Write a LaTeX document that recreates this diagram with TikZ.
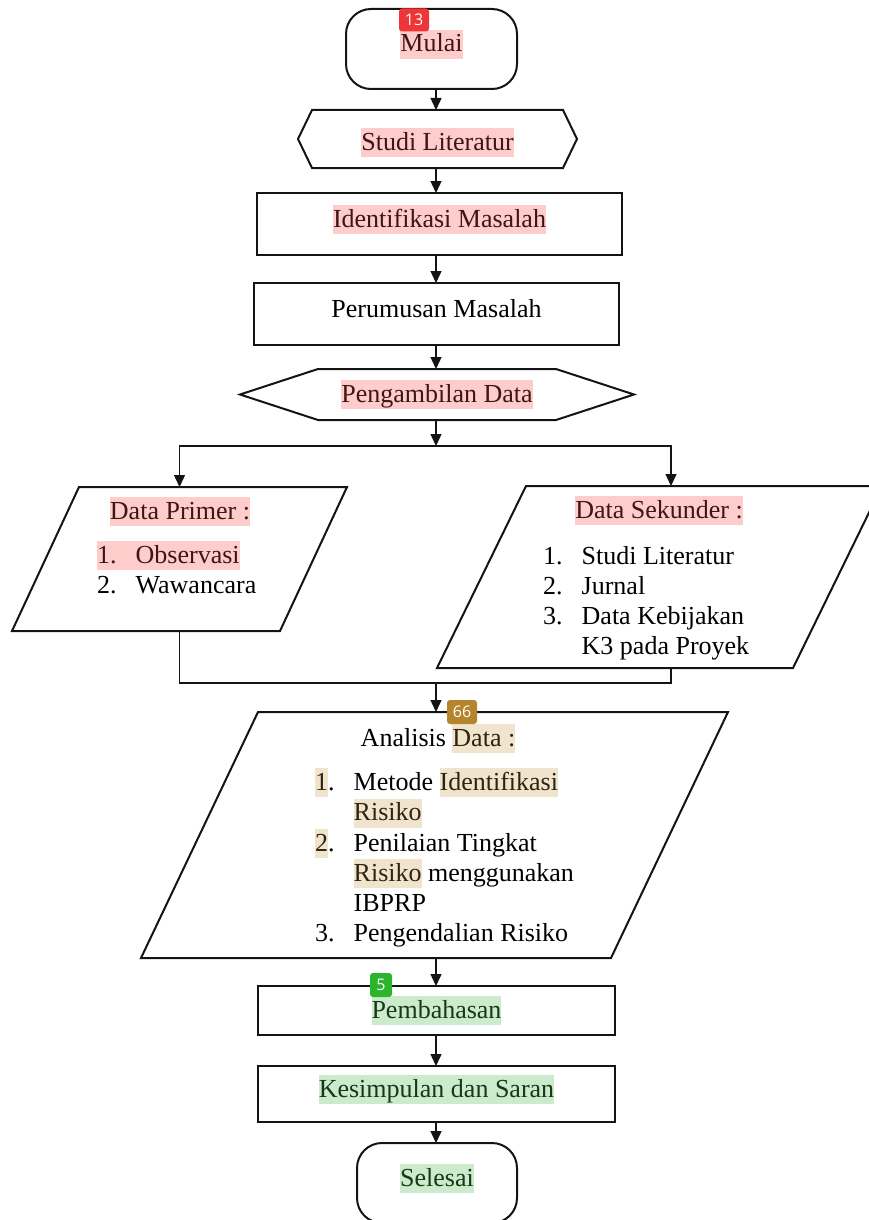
\documentclass[tikz,border=0pt]{standalone}
\usepackage{fontspec}
\setmainfont{Liberation Serif}
\newfontfamily\badgefont{Open Sans}
\usepackage{xcolor}
\usepackage{tikz}
\usetikzlibrary{arrows.meta}
\definecolor{flowInk}{HTML}{141414}
\definecolor{hlRed}{HTML}{FFCCCC}
\definecolor{hlTan}{HTML}{F0E4CC}
\definecolor{hlGreen}{HTML}{CCEBCC}
\definecolor{inkRed}{HTML}{3D1616}
\definecolor{inkTan}{HTML}{2E2412}
\definecolor{inkGreen}{HTML}{183818}
\definecolor{tagRed}{HTML}{EE3537}
\definecolor{tagGold}{HTML}{B5852E}
\definecolor{tagGreen}{HTML}{2DB42D}
\setlength{\fboxsep}{0pt}
\newcommand{\hlred}[1]{\colorbox{hlRed}{\rule[-7pt]{0pt}{29pt}\textcolor{inkRed}{#1}}}
\newcommand{\hltan}[1]{\colorbox{hlTan}{\rule[-7pt]{0pt}{29pt}\textcolor{inkTan}{#1}}}
\newcommand{\hlgreen}[1]{\colorbox{hlGreen}{\rule[-7pt]{0pt}{29pt}\textcolor{inkGreen}{#1}}}
\newcommand{\itemno}[1]{\makebox[38.5pt][l]{#1}}

\begin{document}
\begin{tikzpicture}[
  x=1pt, y=-1pt,
  font=\fontsize{26}{30}\selectfont,
  frame/.style={draw=flowInk, line width=2pt, inner sep=0pt, outer sep=0pt},
  terminal/.style={frame, rounded corners=25pt},
  shell/.style={inner sep=0pt, outer sep=0pt},
  outline/.style={draw=flowInk, line width=2pt},
  raised/.style={text height=22pt, text depth=16pt},
  line/.style={draw=flowInk, line width=1.4pt},
  arr/.style={line, -{Triangle[length=12pt, width=11pt]}},
  head/.style={anchor=base, inner sep=0pt},
  entry/.style={anchor=base west, inner sep=0pt},
  tag/.style={font=\badgefont\fontsize{16}{16}\selectfont, text=white, rounded corners=3pt, inner sep=0pt, minimum height=23pt}
]
  \useasboundingbox (0,0) rectangle (869,1220);
  \clip (0,0) rectangle (869,1220);

  \node[terminal, raised, minimum width=171, minimum height=80] (mulai) at (431.5,49) {\hlred{Mulai}};
  \node[shell, minimum width=279, minimum height=58, text height=29pt, text depth=7pt] (studi) at (437.5,139) {\hlred{Studi Literatur}};
  \node[frame, raised, minimum width=365, minimum height=62] (ident) at (439.5,224) {\hlred{Identifikasi Masalah}};
  \node[frame, raised, minimum width=365, minimum height=62] (perum) at (436.5,314) {Perumusan Masalah};
  \node[shell, minimum width=394, minimum height=51] (ambil) at (437,394.5) {\hlred{Pengambilan Data}};
  \node[shell, minimum width=335, minimum height=144] (primer) at (179.5,559) {};
  \node[shell, minimum width=445, minimum height=182] (sekunder) at (659.5,577) {};
  \node[shell, minimum width=587, minimum height=246] (analisis) at (434.5,835) {};
  \node[frame, minimum width=357, minimum height=49] (bahas) at (436.5,1010.5) {\hlgreen{Pembahasan}};
  \node[frame, raised, minimum width=357, minimum height=56] (simpul) at (436.5,1094) {\hlgreen{Kesimpulan dan Saran}};
  \node[terminal, raised, minimum width=160, minimum height=80] (selesai) at (437,1183) {\hlgreen{Selesai}};

  \foreach \n/\d in {studi/14, ambil/78} {
    \draw[outline] (\n.west) -- ([xshift=\d]\n.north west) -- ([xshift=-\d]\n.north east) -- (\n.east)
      -- ([xshift=-\d]\n.south east) -- ([xshift=\d]\n.south west) -- cycle;
  }
  \foreach \n/\s in {primer/67, sekunder/89, analisis/117} {
    \draw[outline] ([xshift=\s]\n.north west) -- (\n.north east) -- ([xshift=-\s]\n.south east) -- (\n.south west) -- cycle;
  }

  \node[head] (prHead) at (180,519) {\hlred{Data Primer :}};
  \node[entry] (pr1) at (97,563) {\hlred{\itemno{1.}Observasi}};
  \node[entry] (pr2) at (97,593) {\itemno{2.}Wawancara};

  \node[head] (skHead) at (659,518) {\hlred{Data Sekunder :}};
  \node[entry] (sk1) at (543,564) {\itemno{1.}Studi Literatur};
  \node[entry] (sk2) at (543,594) {\itemno{2.}Jurnal};
  \node[entry] (sk3) at (543,624) {\itemno{3.}Data Kebijakan};
  \node[entry] (sk4) at (581.5,654) {K3 pada Proyek};

  \node[head] (anHead) at (438,746) {Analisis \hltan{Data :}};
  \node[entry] (an1) at (315,790) {\itemno{\hltan{1}.}Metode \hltan{Identifikasi}};
  \node[entry] (an2) at (353.5,820.5) {\hltan{Risiko}};
  \node[entry] (an3) at (315,851) {\itemno{\hltan{2}.}Penilaian Tingkat};
  \node[entry] (an4) at (353.5,881) {\hltan{Risiko} menggunakan};
  \node[entry] (an5) at (353.5,911) {IBPRP};
  \node[entry] (an6) at (315,941.5) {\itemno{3.}Pengendalian Risiko};

  \coordinate (axis) at (436,0);
  \coordinate (colR) at (671,0);
  \coordinate (split) at (436,446);
  \coordinate (join) at (436,683);

  \draw[arr] (mulai.south -| axis) -- (studi.north -| axis);
  \draw[arr] (studi.south -| axis) -- (ident.north -| axis);
  \draw[arr] (ident.south -| axis) -- (perum.north -| axis);
  \draw[arr] (perum.south -| axis) -- (ambil.north -| axis);
  \draw[arr] (ambil.south -| axis) -- (split);
  \draw[arr] (split) -| (primer.north);
  \draw[arr] (split) -| (sekunder.north -| colR);
  \draw[line] (primer.south) |- (join);
  \draw[line] (sekunder.south -| colR) |- (join);
  \draw[arr] (join) -- (analisis.north -| axis);
  \draw[arr] (analisis.south -| axis) -- (bahas.north -| axis);
  \draw[arr] (bahas.south -| axis) -- (simpul.north -| axis);
  \draw[arr] (simpul.south -| axis) -- (selesai.north -| axis);

  \node[tag, fill=tagRed, minimum width=30] (tag13) at (414,20) {13};
  \node[tag, fill=tagGold, minimum width=30, minimum height=24] (tag66) at (462,712) {66};
  \node[tag, fill=tagGreen, minimum width=22, minimum height=24] (tag5) at (381,985) {5};
\end{tikzpicture}
\end{document}
